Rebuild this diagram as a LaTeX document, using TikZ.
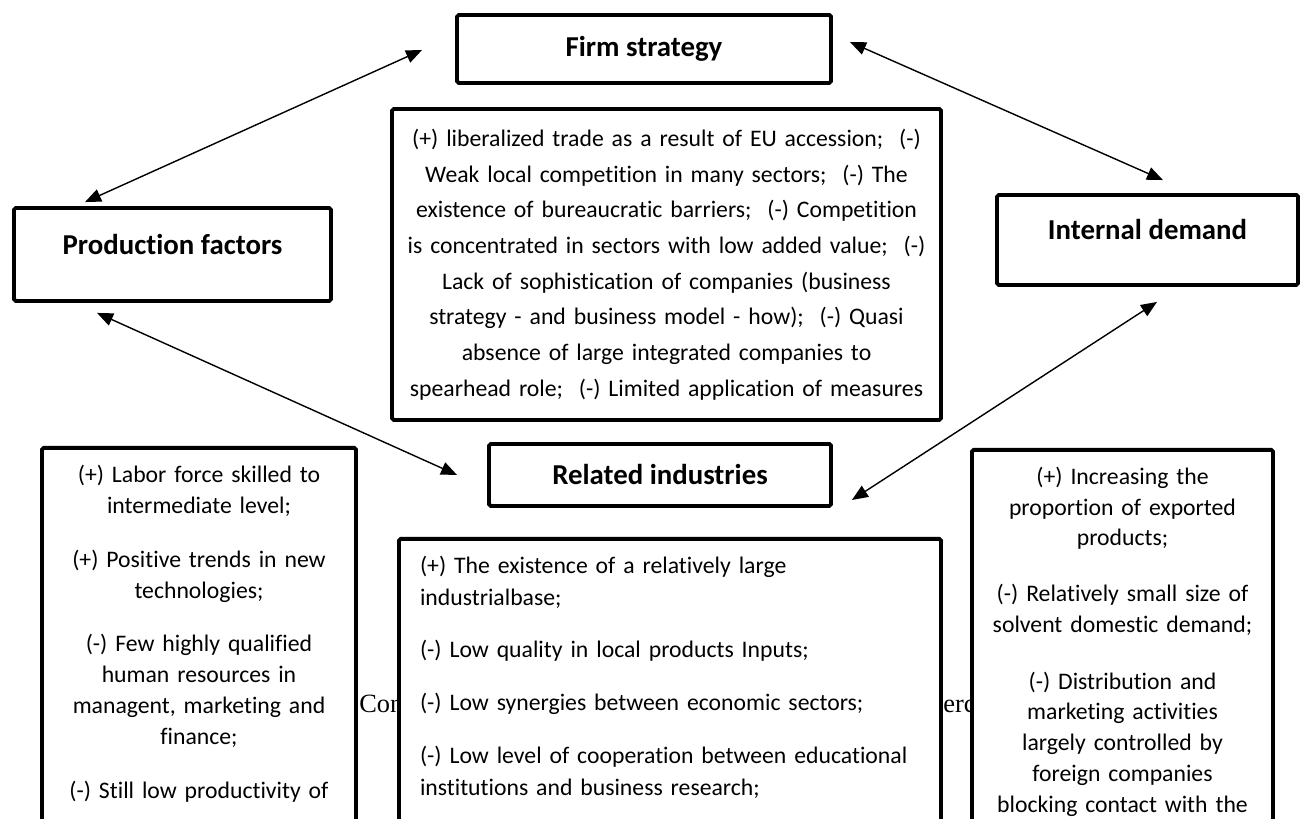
\documentclass[tikz,border=0pt]{standalone}
\usepackage{fontspec}
\setmainfont{Carlito}[Ligatures=NoCommon]
\newfontfamily\capfont{Liberation Serif}
\usetikzlibrary{arrows.meta}
\tikzset{
  box/.style={draw=black,line width=2.2pt,fill=white,rounded corners=1pt},
  head/.style={box,font=\fontsize{16.4}{19}\selectfont\bfseries,inner sep=0pt},
  headup/.style={head,text height=0.3cm,text depth=0.3cm},
  notes/.style={box,anchor=north,align=center,inner xsep=0.3cm,inner ysep=0.34cm,
                text depth=9cm,font=\fontsize{13.5}{17.6}\selectfont},
  link/.style={{Triangle[length=3.2mm,width=2.6mm]}-{Triangle[length=3.2mm,width=2.6mm]},line width=0.8pt},
  hidden/.style={anchor=base west,inner sep=0pt,font=\capfont\fontsize{15}{18}\selectfont},
}
\begin{document}
\begin{tikzpicture}[x=1cm,y=1cm]
  \useasboundingbox (0,0) rectangle (26.1,16.38);
  \clip (0,0) rectangle (26.1,16.38);

  % caption line lying under the boxes
  \node[hidden] (capleft) at (7.18,2.12) {Con};
  \node[hidden] (capright) at (18.86,2.12) {erc};

  \node[head,minimum width=7.48cm,minimum height=1.36cm] (firm) at (12.88,15.40) {Firm strategy};
  \node[headup,minimum width=6.34cm,minimum height=1.86cm] (prod) at (3.45,11.29) {Production factors};
  \node[headup,minimum width=6.02cm,minimum height=1.80cm] (demand) at (22.95,11.58) {Internal demand};
  \node[head,minimum width=6.84cm,minimum height=1.24cm] (related) at (13.2,6.88) {Related industries};

  \node[box,align=center,inner sep=0pt,text width=10.4cm,minimum width=10.98cm,minimum height=6.22cm,
        font=\fontsize{13.5}{20.3}\selectfont] (firmtxt) at (13.33,11.09)
    {(+) liberalized trade as a result of EU accession;~ (-)\\
     Weak local competition in many sectors;~ (-) The\\
     existence of bureaucratic barriers;~ (-) Competition\\
     is concentrated in sectors with low added value;~ (-)\\
     Lack of sophistication of companies (business\\
     strategy - and business model - how);~ (-) Quasi\\
     absence of large integrated companies to\\
     spearhead role;~ (-) Limited application of measures};

  \node[notes,text width=5.68cm,minimum width=6.28cm] (prodtxt) at (3.98,7.46)
    {(+) Labor force skilled to\\intermediate level;\\[0.46cm]
     (+) Positive trends in new\\technologies;\\[0.46cm]
     (-) Few highly qualified\\human resources in\\managent, marketing and\\finance;\\[0.46cm]
     (-) Still low productivity of};
  \node[notes,text width=5.42cm,minimum width=6.02cm,font=\fontsize{13.5}{17.5}\selectfont] (demtxt) at (22.45,7.42)
    {(+) Increasing the\\proportion of exported\\products;\\[0.5cm]
     (-) Relatively small size of\\solvent domestic demand;\\[0.52cm]
     (-) Distribution and\\marketing activities\\largely controlled by\\foreign companies\\blocking contact with the};
  \node[notes,align=left,inner xsep=0.42cm,text width=10.0cm,minimum width=10.84cm,
        font=\fontsize{13.5}{18.2}\selectfont] (reltxt) at (13.4,5.64)
    {(+) The existence of a relatively large\\industrialbase;\\[0.4cm]
     (-) Low quality in local products Inputs;\\[0.42cm]
     (-) Low synergies between economic sectors;\\[0.42cm]
     (-) Low level of cooperation between educational\\institutions and business research;};

  \draw[link] ([xshift=-1.75cm,yshift=0.08cm]prod.north) -- ([xshift=-0.66cm,yshift=-0.02cm]firm.west);
  \draw[link] ([xshift=0.34cm,yshift=0.14cm]firm.east) -- ([xshift=0.31cm,yshift=0.26cm]demand.north);
  \draw[link] ([xshift=-1.51cm,yshift=-0.2cm]prod.south) -- ([xshift=-0.6cm]related.west);
  \draw[link] ([xshift=0.19cm,yshift=-0.3cm]demand.south) -- ([xshift=0.38cm,yshift=-0.5cm]related.east);
\end{tikzpicture}
\end{document}
